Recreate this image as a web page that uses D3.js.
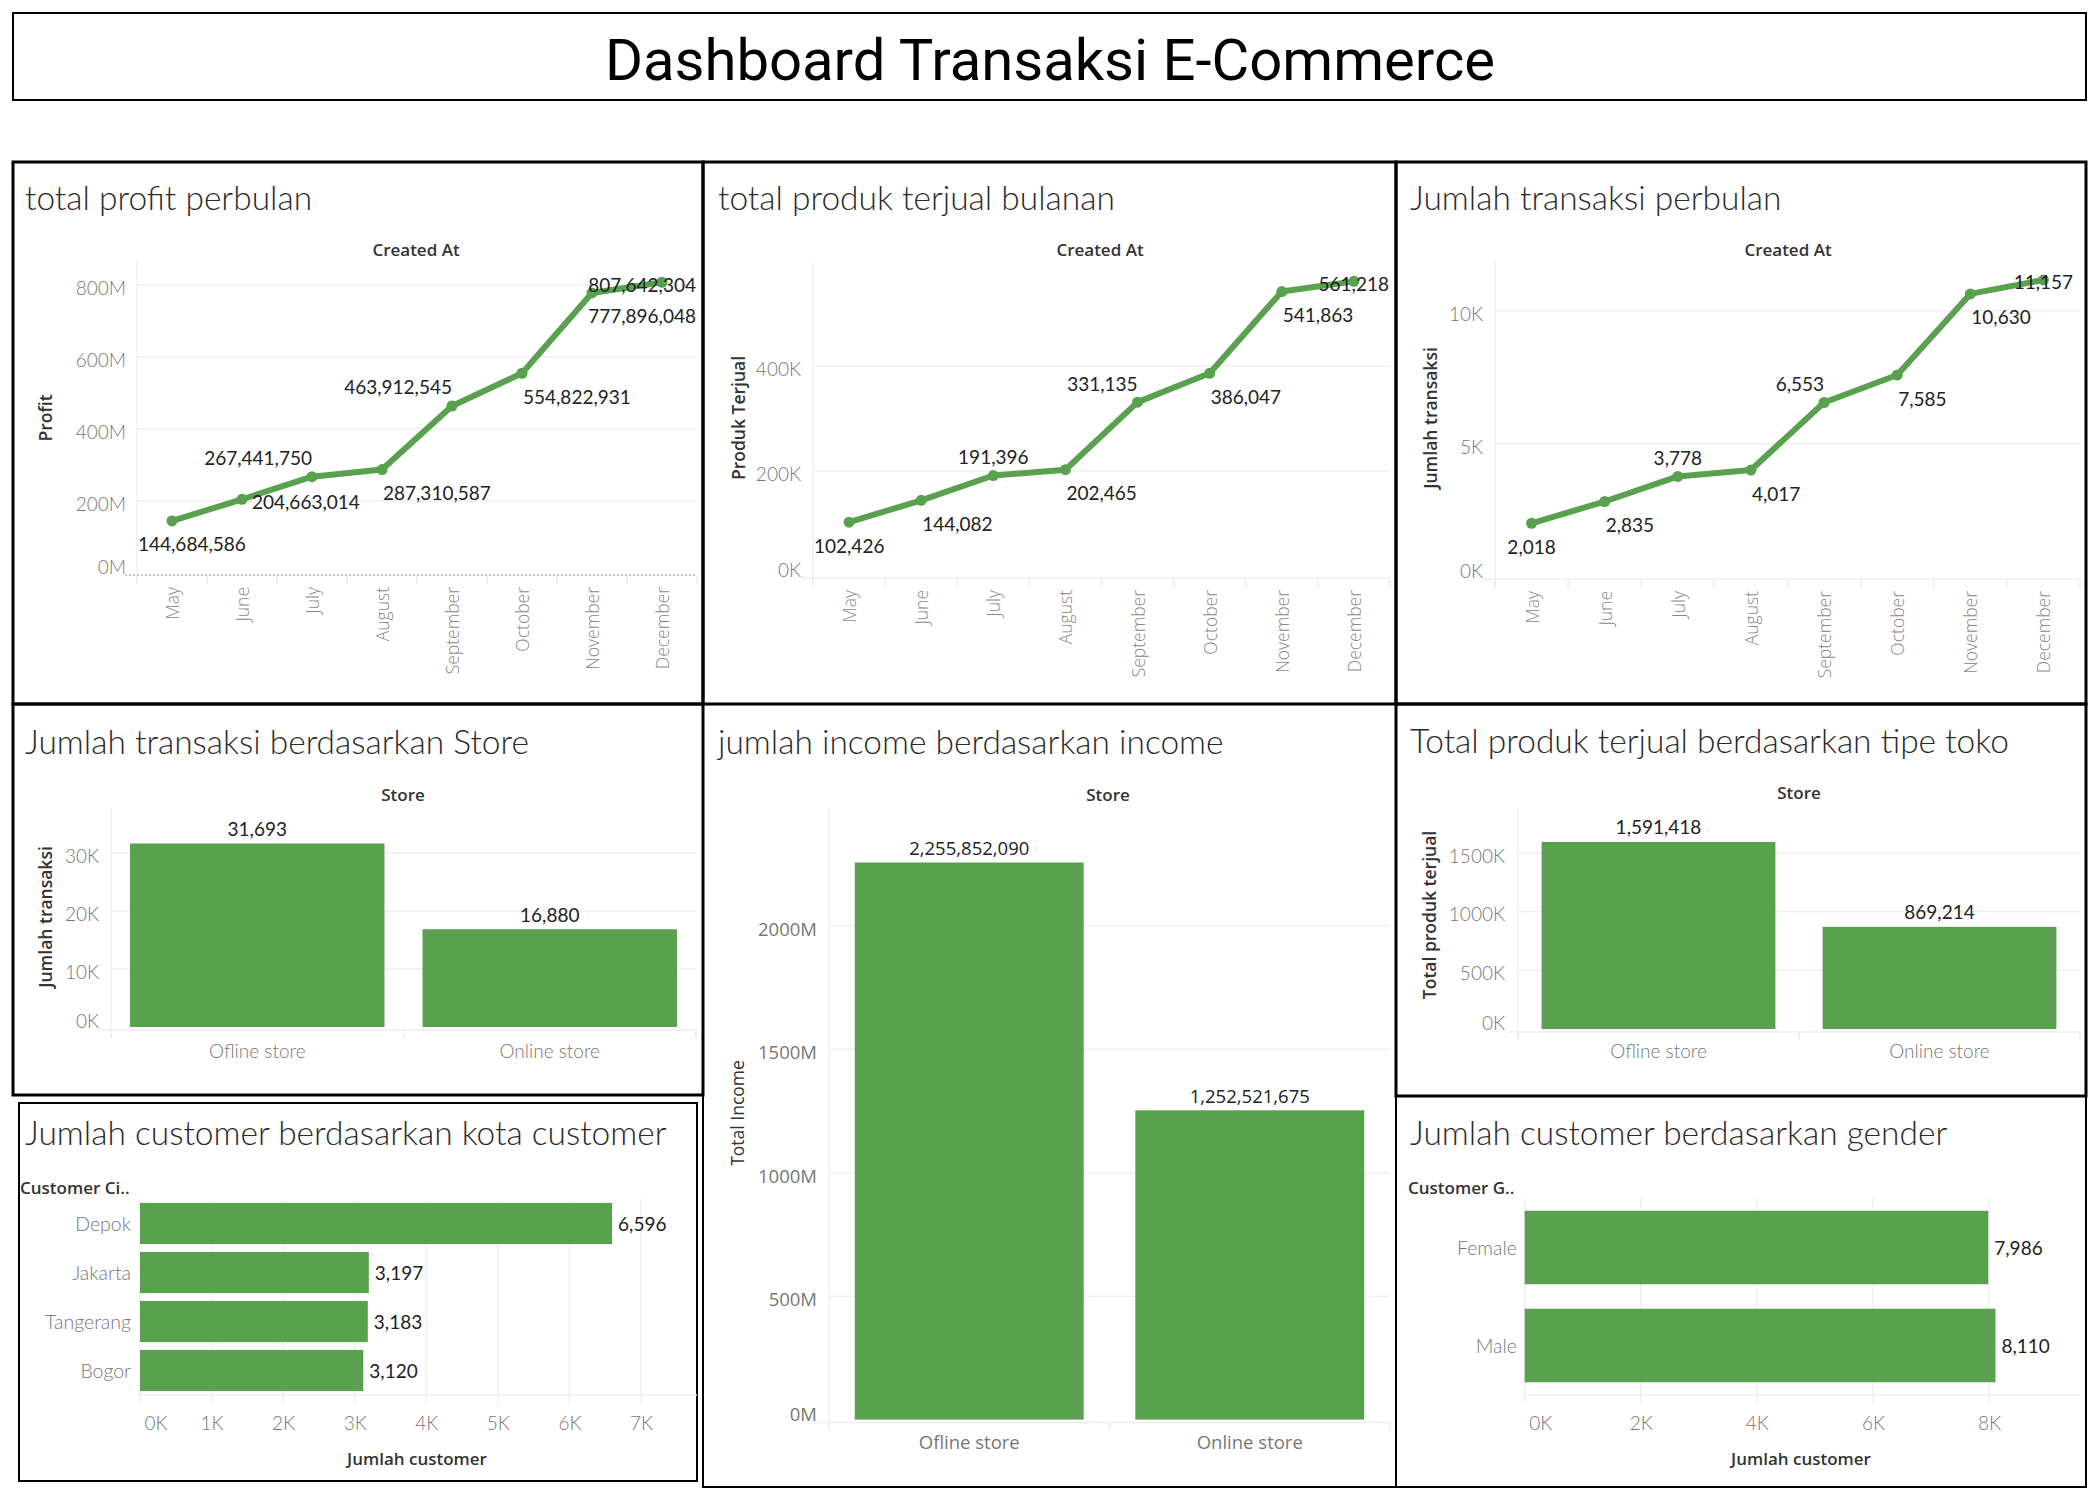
<!DOCTYPE html>
<html>
<head>
<meta charset="utf-8">
<script src="https://cdn.jsdelivr.net/npm/d3@7"></script>
<style>
  html, body { margin: 0; padding: 0; background: #fff; }
  svg { display: block; }
</style>
</head>
<body>
<script>
// ---------------- DATA ----------------
const dashboardTitle = "Dashboard Transaksi E-Commerce";
const months = ["May", "June", "July", "August", "September", "October", "November", "December"];
const profitValues = [144684586, 204663014, 267441750, 287310587, 463912545, 554822931, 777896048, 807642304];
const produkValues = [102426, 144082, 191396, 202465, 331135, 386047, 541863, 561218];
const transaksiValues = [2018, 2835, 3778, 4017, 6553, 7585, 10630, 11157];
const profitTicks = [0, 200e6, 400e6, 600e6, 800e6];
const produkTicks = [0, 200000, 400000];
const transaksiTicks = [0, 5000, 10000];

const stores = ["Ofline store", "Online store"];
const storeTransaksi = [31693, 16880];
const storeIncome = [2255852090, 1252521675];
const storeProduk = [1591418, 869214];
const storeTransaksiTicks = [0, 10000, 20000, 30000];
const storeIncomeTicks = [0, 500e6, 1000e6, 1500e6, 2000e6];
const storeProdukTicks = [0, 500000, 1000000, 1500000];

const cities = ["Depok", "Jakarta", "Tangerang", "Bogor"];
const cityCustomers = [6596, 3197, 3183, 3120];
const cityTicks = [0, 1000, 2000, 3000, 4000, 5000, 6000, 7000];

const genders = ["Female", "Male"];
const genderCustomers = [7986, 8110];
const genderTicks = [0, 2000, 4000, 6000, 8000];

// ---------------- STYLE / LAYOUT ----------------
const W = 2099, H = 1499;
const GREEN = "#59a14f";
const FONT = "Lato, 'Noto Sans', sans-serif";
const FONT2 = "'Open Sans', 'Noto Sans', sans-serif";
const LBL = "19px";
const TICKC = "#777";
const fmtComma = d3.format(",");
const fmtM = v => (v / 1e6) + "M";
const fmtK = v => (v / 1e3) + "K";

const svg = d3.select("body").append("svg")
  .attr("width", W).attr("height", H)
  .style("background", "#fff");

// ---- header ----
svg.append("rect").attr("x", 13).attr("y", 13).attr("width", 2073).attr("height", 87)
  .attr("fill", "none").attr("stroke", "#000").attr("stroke-width", 2);
svg.append("text").attr("x", 1050).attr("y", 60)
  .attr("text-anchor", "middle").attr("dominant-baseline", "central")
  .style("font-family", "Roboto, sans-serif").style("font-weight", 400).style("font-size", "58px").style("fill", "#000")
  .text(dashboardTitle);

// ---- panel borders ----
function panel(x0, y0, x1, y1, sw) {
  svg.append("rect").attr("x", x0).attr("y", y0).attr("width", x1 - x0).attr("height", y1 - y0)
    .attr("fill", "none").attr("stroke", "#000").attr("stroke-width", sw);
}
function titleText(txt, x, y) {
  svg.append("text").attr("x", x).attr("y", y)
    .style("font-family", FONT).style("font-weight", 300).style("font-size", "33.5px").style("fill", "#2a2a2a")
    .text(txt);
}
function header(txt, x, y, anchor) {
  svg.append("text").attr("x", x).attr("y", y)
    .attr("text-anchor", anchor || "middle").attr("dominant-baseline", "central")
    .style("font-family", FONT2).style("font-weight", 600).style("font-size", "17px").style("fill", "#333")
    .text(txt);
}
function yTitle(txt, x, y, weight) {
  svg.append("text").attr("transform", `translate(${x},${y}) rotate(-90)`)
    .attr("text-anchor", "middle").attr("dominant-baseline", "central")
    .style("font-family", FONT2).style("font-weight", weight || 600).style("font-size", "17.5px").style("fill", "#333")
    .text(txt);
}

// ---------------- LINE CHARTS ----------------
// label placement codes: horizontal (c: centered, r: starts at point, l: ends at point) + vertical (a: above, b: below, m: middle)
const profitPlace = ["cb", "rm", "la", "rb", "la", "rb", "rb", "cm"];
const produkPlace = ["cb", "rb", "ca", "rb", "la", "rb", "rb", "cm"];
const transaksiPlace = ["cb", "rb", "ca", "rb", "la", "rb", "rb", "cm"];

function lineChart(c) {
  const g = svg.append("g");
  const x = d3.scaleBand().domain(months).range([c.plotL, c.plotR]);
  const y = d3.scaleLinear().domain([0, c.refVal]).range([c.y0, c.refPx]);

  g.selectAll(".grid").data(c.ticks.filter(t => t > 0)).join("line")
    .attr("x1", c.plotL).attr("x2", c.plotR).attr("y1", d => y(d)).attr("y2", d => y(d))
    .attr("stroke", "#efefef").attr("stroke-width", 1.5);
  g.append("line").attr("x1", c.plotL).attr("x2", c.plotL).attr("y1", c.plotT).attr("y2", y(0) + 2)
    .attr("stroke", "#f0f0f0").attr("stroke-width", 1.5);
  g.append("line").attr("x1", c.plotL - 12).attr("x2", c.plotR).attr("y1", y(0) + 2).attr("y2", y(0) + 2)
    .attr("stroke", c.dotted ? "#bbb" : "#eeeeee").attr("stroke-width", 1.5)
    .attr("stroke-dasharray", c.dotted ? "2,2" : null);
  const seps = months.map(m => x(m)).concat([c.plotR]);
  g.selectAll(".sep").data(seps).join("line")
    .attr("x1", d => d).attr("x2", d => d).attr("y1", y(0) + 3).attr("y2", y(0) + 11)
    .attr("stroke", "#eaeaea").attr("stroke-width", 1.5);

  const ya = d3.axisLeft(y).tickValues(c.ticks).tickFormat(c.fmt).tickSize(0).tickPadding(0);
  const yg = g.append("g").attr("transform", `translate(${c.tickX},0)`).call(ya);
  yg.select(".domain").remove();
  yg.selectAll("text").style("font-family", FONT).style("font-weight", 300).style("font-size", LBL)
    .style("fill", TICKC).attr("dy", null).attr("dominant-baseline", "central")
    .attr("y", d => d === 0 ? -7 : 2);

  const xa = d3.axisBottom(x).tickSize(0).tickPadding(0);
  const xg = g.append("g").attr("transform", `translate(0,${y(0) + 14})`).call(xa);
  xg.select(".domain").remove();
  xg.selectAll("text").attr("transform", "rotate(-90)").attr("text-anchor", "end")
    .attr("x", 0).attr("y", 0).attr("dy", null).attr("dominant-baseline", "central")
    .style("font-family", FONT2).style("font-weight", 300).style("font-size", "17.5px").style("fill", "#888");

  const pts = months.map((m, i) => [x(m) + x.bandwidth() / 2, y(c.values[i])]);
  g.append("path").datum(pts)
    .attr("d", d3.line())
    .attr("fill", "none").attr("stroke", GREEN).attr("stroke-width", 6)
    .attr("stroke-linejoin", "round").attr("stroke-linecap", "round");
  g.selectAll(".pt").data(pts).join("circle")
    .attr("cx", d => d[0]).attr("cy", d => d[1]).attr("r", 5.5).attr("fill", GREEN);

  const lbl = g.selectAll(".lbl").data(c.values).join("text")
    .attr("dominant-baseline", "central")
    .style("font-family", FONT).style("font-size", LBL).style("fill", "#222")
    .text(d => fmtComma(d));
  lbl.each(function (d, i) {
    const t = d3.select(this);
    const w = this.getComputedTextLength();
    const [px, py] = pts[i];
    const code = c.place[i];
    let left;
    if (code[0] === "c") left = px - w / 2;
    else if (code[0] === "r") left = px + (code[1] === "m" ? 10 : 1);
    else left = px - w;
    left = Math.max(c.plotL + 1, Math.min(c.plotR - w - 1, left));
    const dy = code[1] === "a" ? -19 : code[1] === "b" ? 23 : 2;
    t.attr("x", left).attr("y", py + dy);
  });
}

// ---------------- VERTICAL BAR CHARTS ----------------
function vBarChart(c) {
  const g = svg.append("g");
  const x = d3.scaleBand().domain(stores).range([c.plotL, c.plotR]).paddingInner(c.pad).paddingOuter(c.pad / 2);
  const y = d3.scaleLinear().domain([0, c.refVal]).range([c.y0, c.refPx]);
  const tf = c.tickFont || FONT, ts = c.tickSize || LBL, tw = c.tickWeight || 300;

  g.selectAll(".grid").data(c.ticks.filter(t => t > 0)).join("line")
    .attr("x1", c.plotL).attr("x2", c.plotR).attr("y1", d => y(d)).attr("y2", d => y(d))
    .attr("stroke", "#efefef").attr("stroke-width", 1.5);
  g.append("line").attr("x1", c.plotL).attr("x2", c.plotL).attr("y1", c.plotT).attr("y2", y(0) + 3)
    .attr("stroke", "#f0f0f0").attr("stroke-width", 1.5);
  g.append("line").attr("x1", c.plotL - 12).attr("x2", c.plotR).attr("y1", y(0) + 3).attr("y2", y(0) + 3)
    .attr("stroke", "#eeeeee").attr("stroke-width", 1.5);
  const seps = stores.map((s, i) => c.plotL + i * (c.plotR - c.plotL) / stores.length).concat([c.plotR]);
  g.selectAll(".sep").data(seps).join("line")
    .attr("x1", d => d).attr("x2", d => d).attr("y1", y(0) + 3).attr("y2", y(0) + 11)
    .attr("stroke", "#eaeaea").attr("stroke-width", 1.5);

  const ya = d3.axisLeft(y).tickValues(c.ticks).tickFormat(c.fmt).tickSize(0).tickPadding(0);
  const yg = g.append("g").attr("transform", `translate(${c.tickX},0)`).call(ya);
  yg.select(".domain").remove();
  yg.selectAll("text").style("font-family", tf).style("font-weight", tw).style("font-size", ts)
    .style("fill", TICKC).attr("dy", null).attr("dominant-baseline", "central")
    .attr("y", d => d === 0 ? -7 : 2);

  const xa = d3.axisBottom(x).tickSize(0).tickPadding(0);
  const xg = g.append("g").attr("transform", `translate(0,${c.xLabY})`).call(xa);
  xg.select(".domain").remove();
  xg.selectAll("text").attr("dy", null).attr("y", 0).attr("dominant-baseline", "central")
    .style("font-family", tf).style("font-weight", tw).style("font-size", ts).style("fill", TICKC);

  g.selectAll(".bar").data(c.values).join("rect")
    .attr("x", (d, i) => x(stores[i])).attr("width", x.bandwidth())
    .attr("y", d => y(d)).attr("height", d => y(0) - y(d)).attr("fill", GREEN);
  g.selectAll(".val").data(c.values).join("text")
    .attr("x", (d, i) => x(stores[i]) + x.bandwidth() / 2).attr("y", d => y(d) - 15)
    .attr("text-anchor", "middle").attr("dominant-baseline", "central")
    .style("font-family", tf).style("font-size", ts).style("fill", "#222")
    .text(d => fmtComma(d));
}

// ---------------- HORIZONTAL BAR CHARTS ----------------
function hBarChart(c) {
  const g = svg.append("g");
  const x = d3.scaleLinear().domain([0, c.refVal]).range([c.x0, c.refPx]);
  const y = d3.scaleBand().domain(c.cats).range([c.plotT, c.plotB]).paddingInner(c.padIn).paddingOuter(c.padOut);

  g.selectAll(".grid").data(c.ticks).join("line")
    .attr("x1", d => x(d)).attr("x2", d => x(d)).attr("y1", c.plotT).attr("y2", c.plotB + 8)
    .attr("stroke", "#efefef").attr("stroke-width", 1.5);
  g.append("line").attr("x1", c.x0).attr("x2", c.plotR).attr("y1", c.plotB).attr("y2", c.plotB)
    .attr("stroke", "#eeeeee").attr("stroke-width", 1.5);

  const xa = d3.axisBottom(x).tickValues(c.ticks).tickFormat(fmtK).tickSize(0).tickPadding(0);
  const xg = g.append("g").attr("transform", `translate(0,${c.xLabY})`).call(xa);
  xg.select(".domain").remove();
  xg.selectAll("text").attr("dy", null).attr("y", 0).attr("dominant-baseline", "central")
    .style("font-family", FONT).style("font-weight", 300).style("font-size", LBL).style("fill", TICKC)
    .attr("text-anchor", d => d === 0 ? "start" : "middle").attr("x", d => d === 0 ? 4 : 0);

  const ya = d3.axisLeft(y).tickSize(0).tickPadding(0);
  const yg = g.append("g").attr("transform", `translate(${c.catX},0)`).call(ya);
  yg.select(".domain").remove();
  yg.selectAll("text").attr("dy", null).attr("dominant-baseline", "central")
    .style("font-family", FONT).style("font-weight", 300).style("font-size", "19.5px").style("fill", TICKC);

  g.selectAll(".bar").data(c.values).join("rect")
    .attr("x", c.x0).attr("width", d => x(d) - c.x0)
    .attr("y", (d, i) => y(c.cats[i])).attr("height", y.bandwidth()).attr("fill", GREEN);
  g.selectAll(".val").data(c.values).join("text")
    .attr("x", d => x(d) + 6).attr("y", (d, i) => y(c.cats[i]) + y.bandwidth() / 2)
    .attr("dominant-baseline", "central")
    .style("font-family", FONT).style("font-size", LBL).style("fill", "#222")
    .text(d => fmtComma(d));

  header(c.catHeader, c.catHeaderX, c.catHeaderY, "start");
  header(c.xTitle, c.xTitleX, c.xTitleY, "middle");
}

// ---------------- PANELS ----------------
panel(13, 162, 703, 704, 3);
panel(703, 162, 1396, 704, 3);
panel(1396, 162, 2086, 704, 3);
panel(13, 704, 703, 1095, 3);
panel(703, 704, 1396, 1487, 2);
panel(1396, 704, 2086, 1096, 3);
panel(19, 1103, 697, 1481, 2);
panel(1396, 1096, 2086, 1487, 2);

// chart 1: profit
titleText("total profit perbulan", 25, 210);
header("Created At", 416, 249);
yTitle("Profit", 45, 418);
lineChart({ values: profitValues, place: profitPlace, plotL: 137, plotR: 697, plotT: 262,
  y0: 573, refVal: 800e6, refPx: 285, ticks: profitTicks, fmt: fmtM, tickX: 126, dotted: true });

// chart 2: produk
titleText("total produk terjual bulanan", 718, 210);
header("Created At", 1100, 249);
yTitle("Produk Terjual", 738, 418);
lineChart({ values: produkValues, place: produkPlace, plotL: 813, plotR: 1390, plotT: 262,
  y0: 576, refVal: 400000, refPx: 366, ticks: produkTicks, fmt: fmtK, tickX: 801 });

// chart 3: transaksi
titleText("Jumlah transaksi perbulan", 1410, 210);
header("Created At", 1788, 249);
yTitle("Jumlah transaksi", 1430, 418);
lineChart({ values: transaksiValues, place: transaksiPlace, plotL: 1495, plotR: 2080, plotT: 262,
  y0: 577, refVal: 10000, refPx: 310.7, ticks: transaksiTicks, fmt: fmtK, tickX: 1483 });

// chart 4: transaksi by store
titleText("Jumlah transaksi berdasarkan Store", 25, 754);
header("Store", 403, 794);
yTitle("Jumlah transaksi", 45, 917);
vBarChart({ values: storeTransaksi, plotL: 111, plotR: 696, plotT: 808, pad: 0.13,
  y0: 1027, refVal: 30000, refPx: 853.3, ticks: storeTransaksiTicks, fmt: fmtK, tickX: 99, xLabY: 1050 });

// chart 6: income by store
titleText("jumlah income berdasarkan income", 718, 754);
header("Store", 1108, 794);
yTitle("Total Income", 737, 1113, 400);
vBarChart({ values: storeIncome, plotL: 829, plotR: 1390, plotT: 807, pad: 0.184,
  y0: 1419.6, refVal: 2000e6, refPx: 925.7, ticks: storeIncomeTicks, fmt: fmtM, tickX: 817, xLabY: 1441,
  tickFont: FONT2, tickSize: "18.5px", tickWeight: 400 });

// chart 7: produk by store type
titleText("Total produk terjual berdasarkan tipe toko", 1410, 753);
header("Store", 1799, 792);
yTitle("Total produk terjual", 1429, 915);
vBarChart({ values: storeProduk, plotL: 1518, plotR: 2080, plotT: 808, pad: 0.168,
  y0: 1029, refVal: 1500000, refPx: 852.7, ticks: storeProdukTicks, fmt: fmtK, tickX: 1505, xLabY: 1050 });

// chart 5: customers by city
titleText("Jumlah customer berdasarkan kota customer", 25, 1145);
hBarChart({ cats: cities, values: cityCustomers, x0: 140, refVal: 7000, refPx: 641, plotR: 697,
  plotT: 1199, plotB: 1395, padIn: 0.16, padOut: 0.08, ticks: cityTicks, xLabY: 1422, catX: 131,
  catHeader: "Customer Ci..", catHeaderX: 20, catHeaderY: 1187, xTitle: "Jumlah customer", xTitleX: 417, xTitleY: 1458 });

// chart 8: customers by gender
titleText("Jumlah customer berdasarkan gender", 1410, 1145);
hBarChart({ cats: genders, values: genderCustomers, x0: 1524.7, refVal: 8000, refPx: 1989.1, plotR: 2080,
  plotT: 1198, plotB: 1395, padIn: 0.25, padOut: 0.13, ticks: genderTicks, xLabY: 1422, catX: 1517,
  catHeader: "Customer G..", catHeaderX: 1408, catHeaderY: 1187, xTitle: "Jumlah customer", xTitleX: 1801, xTitleY: 1458 });
</script>
</body>
</html>
